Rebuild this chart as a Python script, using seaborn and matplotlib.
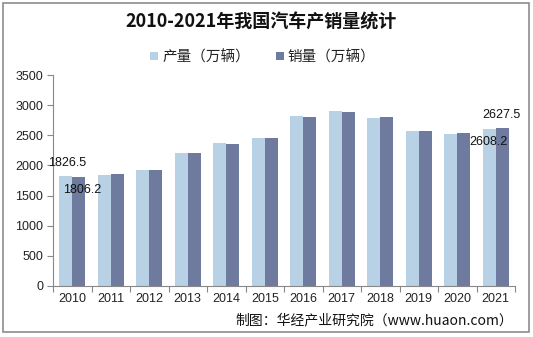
import matplotlib
matplotlib.use("Agg")
import matplotlib.pyplot as plt
import seaborn as sns
import pandas as pd
from matplotlib.patches import Rectangle

years = ["2010", "2011", "2012", "2013", "2014", "2015", "2016", "2017", "2018", "2019", "2020", "2021"]
production = [1826.5, 1841.9, 1927.2, 2211.7, 2372.3, 2450.3, 2811.9, 2901.5, 2780.9, 2572.1, 2522.5, 2608.2]
sales = [1806.2, 1850.5, 1930.6, 2198.4, 2349.2, 2459.8, 2802.8, 2887.9, 2808.1, 2576.9, 2531.1, 2627.5]
series_names = ["产量（万辆）", "销量（万辆）"]
yticks = [0, 500, 1000, 1500, 2000, 2500, 3000, 3500]
title = "2010-2021年我国汽车产销量统计"
source = "制图：华经产业研究院（www.huaon.com）"

df = pd.DataFrame({
    "year": years * 2,
    "value": production + sales,
    "series": [series_names[0]] * len(years) + [series_names[1]] * len(years),
})

sns.set_theme(style="white")
plt.rcParams["font.family"] = ["Liberation Sans", "Noto Sans CJK SC", "DejaVu Sans"]

colors = ["#B9D1E4", "#6E7A9E"]
fig = plt.figure(figsize=(5.33, 3.37), dpi=100)
ax = fig.add_axes([53 / 533, 1 - 286 / 337, (515 - 53) / 533, (286 - 75) / 337])

sns.barplot(data=df, x="year", y="value", hue="series", palette=colors,
            width=0.68, ax=ax, legend=True, saturation=1, linewidth=0)

ax.set_xlim(-0.5, len(years) - 0.5)
ax.set_ylim(0, 3500)
ax.set_yticks(yticks)
ax.set_yticklabels([str(t) for t in yticks], fontsize=9, color="#222222")
ax.set_xticks(range(len(years)))
ax.set_xticklabels(years, fontsize=9, color="#222222")
ax.set_xlabel("")
ax.set_ylabel("")
ax.tick_params(axis="x", length=0, pad=5)
ax.tick_params(axis="y", length=4, color="#888888", left=True, pad=3, width=0.8)
# category boundary ticks on x axis
ax.set_xticks([i - 0.5 for i in range(len(years) + 1)], minor=True)
ax.tick_params(axis="x", which="minor", length=4, color="#888888", bottom=True, width=0.8)

for s in ["top", "right"]:
    ax.spines[s].set_visible(False)
for s in ["left", "bottom"]:
    ax.spines[s].set_color("#888888")
    ax.spines[s].set_linewidth(0.8)

# data labels
n = len(years) - 1
ax.text(-0.62, production[0] + 215, f"{production[0]}", fontsize=9, ha="left", va="center", color="#111111")
ax.text(-0.25, sales[0] - 210, f"{sales[0]}", fontsize=9, ha="left", va="center", color="#111111")
ax.text(n - 0.34, sales[n] + 215, f"{sales[n]}", fontsize=9, ha="left", va="center", color="#111111")
ax.text(n - 0.69, production[n] - 220, f"{production[n]}", fontsize=9, ha="left", va="center", color="#111111")

leg = ax.legend(loc="center", bbox_to_anchor=(263 / 533, 1 - 57 / 337), bbox_transform=fig.transFigure,
                ncol=2, frameon=False, fontsize=10.5, handlelength=0.55, handleheight=0.55,
                handletextpad=0.25, columnspacing=1.8)
for t in leg.get_texts():
    t.set_family(["Noto Sans CJK SC", "DejaVu Sans"])
    t.set_color("#222222")

fig.text(261 / 533, 1 - 22 / 337, title, fontsize=13, fontweight="bold", ha="center", va="center",
         family=["Noto Sans CJK SC", "DejaVu Sans"], color="#111111")
fig.text(513 / 533, 1 - 320 / 337, source, fontsize=10, ha="right", va="center",
         family=["Noto Sans CJK SC", "DejaVu Sans"], color="#111111")

fig.patches.append(Rectangle((3 / 533, 1 - 332 / 337), 526 / 533, 329 / 337, transform=fig.transFigure,
                             fill=False, edgecolor="#8c8c8c", linewidth=1.2))

fig.savefig("out.png", dpi=100)
